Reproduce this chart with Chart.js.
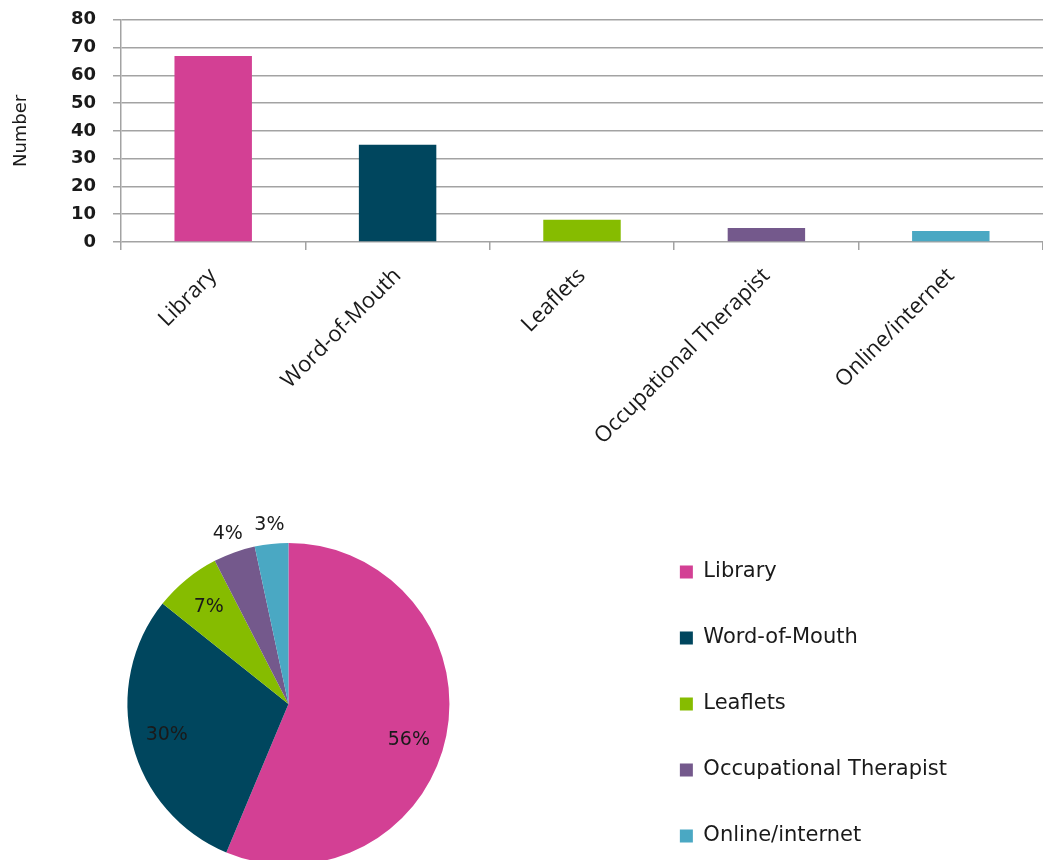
<!DOCTYPE html>
<html>
<head>
<meta charset="utf-8">
<script src="https://cdn.jsdelivr.net/npm/chart.js@4.4.1/dist/chart.umd.min.js"></script>
<style>
	html, body { margin: 0; padding: 0; background: #fff; overflow: hidden; width: 1043px; height: 860px; }
	#barras { position: absolute; left: 0; top: -8px; }
	#pizza { position: absolute; left: -58px; top: 494px; }
</style>
</head>
<body>
<canvas id="barras" width="1043" height="478"></canvas>
<canvas id="pizza" width="1015" height="420"></canvas>
<script>
const categorias = ['Library', 'Word-of-Mouth', 'Leaflets', 'Occupational Therapist', 'Online/internet'];
const quantidades = [67, 35, 8, 5, 4];
const rotulosPizza = ['56%', '30%', '7%', '4%', '3%'];
const ticksY = [0, 10, 20, 30, 40, 50, 60, 70, 80];
const cores = ['#D34094', '#00465E', '#86BC00', '#74598C', '#4AA8C3'];

const corGrade = '#a3a3a3';
const corTexto = '#1a1a1a';

function montaGraficoBarras(ctx) {
	return new Chart(ctx, {
		type: 'bar',
		data: {
			labels: categorias,
			datasets: [
				{
					data: quantidades,
					backgroundColor: cores,
					barPercentage: 0.42,
					categoryPercentage: 1
				}
			]
		},
		options: {
			responsive: false,
			animation: false,
			devicePixelRatio: 1,
			layout: { padding: { top: 0, right: 0, left: 0, bottom: 0 } },
			scales: {
				x: {
					grid: { display: true, drawOnChartArea: false, color: corGrade, lineWidth: 1.5, tickLength: 8 },
					border: { display: false },
					ticks: {
						autoSkip: false,
						maxRotation: 45,
						minRotation: 45,
						padding: 13,
						color: corTexto,
						font: { family: '"Open Sans"', size: 22 }
					},
					afterFit: (escala) => { escala.height = 228; }
				},
				y: {
					min: 0,
					max: 80,
					afterBuildTicks: (escala) => { escala.ticks = ticksY.map(v => ({ value: v })); },
					grid: { color: corGrade, lineWidth: 1.5, tickLength: 8 },
					border: { display: true, color: corGrade, width: 1.5 },
					ticks: {
						padding: 17,
						color: corTexto,
						font: { family: '"DejaVu Sans"', size: 18, weight: 'bold' }
					},
					title: {
						display: true,
						text: 'Number',
						color: corTexto,
						padding: { top: 11, bottom: 0 },
						font: { family: '"DejaVu Sans"', size: 18 }
					},
					afterFit: (escala) => { escala.width = 121; }
				}
			},
			plugins: {
				legend: { display: false },
				tooltip: { enabled: false }
			}
		}
	});
}

// escreve as porcentagens dentro (ou fora, nas fatias pequenas) da pizza
const pluginRotulosPizza = {
	id: 'rotulosPizza',
	afterDatasetsDraw(chart) {
		const ctx = chart.ctx;
		const meta = chart.getDatasetMeta(0);
		ctx.save();
		ctx.font = '19px "DejaVu Sans"';
		ctx.fillStyle = corTexto;
		ctx.textAlign = 'center';
		ctx.textBaseline = 'middle';
		meta.data.forEach((arco, i) => {
			const p = arco.getProps(['x', 'y', 'startAngle', 'endAngle', 'outerRadius'], true);
			// a fatia grande tem o rótulo um pouco abaixo do meio, como no original
			const meio = (p.startAngle + p.endAngle) / 2 + (i === 0 ? 0.09 : 0);
			const fator = i >= 3 ? 1.12 : 0.78;
			ctx.fillText(rotulosPizza[i], p.x + Math.cos(meio) * p.outerRadius * fator, p.y + Math.sin(meio) * p.outerRadius * fator);
		});
		ctx.restore();
	}
};

function montaGraficoPizza(ctx) {
	return new Chart(ctx, {
		type: 'pie',
		data: {
			labels: categorias,
			datasets: [
				{
					data: quantidades,
					backgroundColor: cores,
					borderWidth: 0,
					radius: 161
				}
			]
		},
		options: {
			responsive: false,
			animation: false,
			devicePixelRatio: 1,
			layout: { padding: 0 },
			plugins: {
				legend: {
					display: true,
					position: 'right',
					align: 'center',
					labels: {
						boxWidth: 13,
						boxHeight: 13,
						padding: 45,
						color: corTexto,
						font: { family: '"DejaVu Sans"', size: 21 }
					}
				},
				tooltip: { enabled: false }
			}
		},
		plugins: [pluginRotulosPizza]
	});
}

window.onload = () => {
	montaGraficoBarras(document.getElementById('barras'));
	montaGraficoPizza(document.getElementById('pizza'));
}
</script>
</body>
</html>
